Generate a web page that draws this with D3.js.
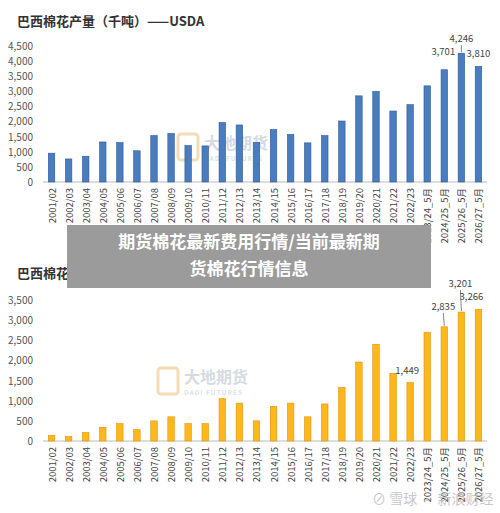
<!DOCTYPE html><html><head><meta charset="utf-8">
<script src="https://cdn.jsdelivr.net/npm/d3@7"></script>
<style>body{margin:0;background:#fff}text{font-family:"Noto Sans CJK SC",Arial,sans-serif}</style></head><body>
<svg id="c" width="500" height="513"></svg>
<script>
const categories=["2001/02","2002/03","2003/04","2004/05","2005/06","2006/07","2007/08","2008/09","2009/10","2010/11","2011/12","2012/13","2013/14","2014/15","2015/16","2016/17","2017/18","2018/19","2019/20","2020/21","2021/22","2022/23","2023/24_5月","2024/25_5月","2025/26_5月","2026/27_5月"];
const production=[950,760,850,1320,1300,1030,1530,1600,1200,1190,1960,1880,1310,1730,1570,1290,1530,2010,2840,2990,2340,2550,3170,3701,4246,3810];
const exports=[140,110,210,340,430,280,500,600,430,430,1050,940,500,860,940,600,920,1330,1960,2400,1680,1449,2700,2835,3201,3266];
const prodTicks=[0,500,1000,1500,2000,2500,3000,3500,4000,4500];
const expTicks=[0,500,1000,1500,2000,2500,3000,3500];
const prodLabels={"2024/25_5月":[-1,-15,0],"2025/26_5月":[0,-11,1],"2026/27_5月":[0,-9,0]};
const expLabels={"2022/23":[-3,-9,0],"2024/25_5月":[-1,-17,1],"2025/26_5月":[-1,-25,1],"2026/27_5月":[-7,-9,0]};
const svg=d3.select("#c");
const fmt=d3.format(",");
function chart(o){
  const g=svg.append("g");
  g.append("text").attr("x",17).attr("y",o.titleY).attr("font-size",13).attr("font-weight","bold").attr("fill","#333").text(o.title);
  const x=d3.scaleBand().domain(categories).range([43,487]).paddingInner(0.62).paddingOuter(0.31);
  const y=d3.scaleLinear().domain([0,o.max]).range([o.y0,o.yTop]);
  const wm=g.append("g").attr("transform",`translate(${o.wmX},${o.wmY})`).attr("opacity",0.35);
  wm.append("rect").attr("x",0).attr("y",-16).attr("width",20).attr("height",26).attr("rx",3).attr("fill","none").attr("stroke","#e0a030").attr("stroke-width",3);
  wm.append("text").attr("x",26).attr("y",-1).attr("font-size",16).attr("font-weight","bold").attr("fill","#8899aa").text("大地期货");
  wm.append("text").attr("x",26).attr("y",11).attr("font-size",6.5).attr("font-weight","bold").attr("fill","#99aabb").attr("letter-spacing",1).text("DADI FUTURES");
  o.ticks.forEach(t=>g.append("text").attr("x",33).attr("y",y(t)+4).attr("text-anchor","end").attr("font-size",10).attr("fill","#555").text(fmt(t)));
  g.append("line").attr("x1",43).attr("x2",487).attr("y1",o.y0).attr("y2",o.y0).attr("stroke","#bbb");
  g.selectAll("rect.b").data(o.vals).enter().append("rect").attr("x",(d,i)=>x(categories[i])).attr("width",x.bandwidth())
   .attr("y",d=>y(d)).attr("height",d=>o.y0-y(d)).attr("fill",o.color).attr("stroke",o.stroke).attr("stroke-width",0.6);
  categories.forEach(c=>g.append("text").attr("transform",`translate(${x(c)+x.bandwidth()/2+4},${o.y0+6}) rotate(-90)`).attr("text-anchor","end").attr("font-size",9.5).attr("fill","#444").text(c));
  Object.entries(o.labels).forEach(([c,[dx,dy,line]])=>{
    const i=categories.indexOf(c),cx=x(c)+x.bandwidth()/2,top=y(o.vals[i]);
    if(line)g.append("line").attr("x1",cx).attr("x2",cx+dx).attr("y1",top-1).attr("y2",top+dy+3).attr("stroke","#888");
    g.append("text").attr("x",cx+dx).attr("y",top+dy).attr("text-anchor","middle").attr("font-size",9.5).attr("fill","#444").text(fmt(o.vals[i]));
  });
}
chart({title:"巴西棉花产量（千吨）——USDA",titleY:26,vals:production,ticks:prodTicks,max:4500,y0:182,yTop:45.5,color:"#4a7cc0",stroke:"#2e5a96",labels:prodLabels,wmX:178,wmY:150});
chart({title:"巴西棉花出口（千吨）——USDA",titleY:278,vals:exports,ticks:expTicks,max:3500,y0:441,yTop:300,color:"#ffb81c",stroke:"#e0900a",labels:expLabels,wmX:158,wmY:384});
svg.append("rect").attr("x",67).attr("y",225).attr("width",364).attr("height",63).attr("fill","#9b9b9b");
svg.append("text").attr("x",249).attr("y",248).attr("text-anchor","middle").attr("font-size",17).attr("font-weight","bold").attr("fill","#fff").text("期货棉花最新费用行情/当前最新期");
svg.append("text").attr("x",249).attr("y",275).attr("text-anchor","middle").attr("font-size",17).attr("font-weight","bold").attr("fill","#fff").text("货棉花行情信息");
svg.append("text").attr("x",372).attr("y",504).attr("font-size",14).attr("fill","#bbb").attr("opacity",0.8).text("⊘ 雪球 · 新浪财经");
</script></body></html>
